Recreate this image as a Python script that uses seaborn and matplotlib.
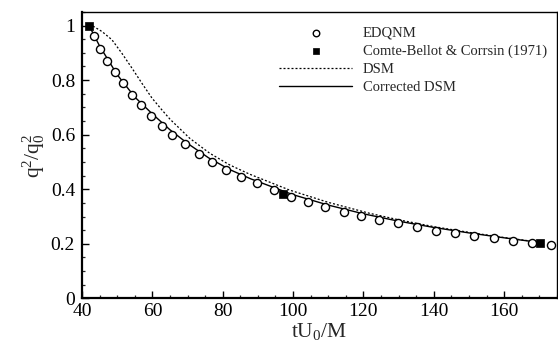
import matplotlib
matplotlib.use("Agg")
import matplotlib.pyplot as plt
import seaborn as sns
import numpy as np
import pandas as pd
from matplotlib.ticker import MultipleLocator, FormatStrFormatter

# EDQNM (open circles)
edqnm_x = [43.4, 45.1, 47.2, 49.5, 51.6, 54.2, 56.8, 59.7, 62.6, 65.7, 69.2, 73.2, 77.0, 81.0,
           85.3, 89.8, 94.5, 99.3, 104.2, 109.1, 114.4, 119.4, 124.5, 129.7, 135.1, 140.6,
           146.0, 151.5, 157.0, 162.5, 167.9, 173.2]
edqnm_y = [0.960, 0.914, 0.871, 0.828, 0.788, 0.745, 0.708, 0.668, 0.633, 0.599, 0.565, 0.531,
           0.500, 0.471, 0.446, 0.422, 0.397, 0.373, 0.354, 0.336, 0.318, 0.302, 0.287, 0.275,
           0.262, 0.248, 0.239, 0.229, 0.220, 0.211, 0.204, 0.194]

# Comte-Bellot & Corrsin (1971) (filled squares)
cbc_x = [42.0, 97.1, 170.2]
cbc_y = [1.0, 0.383, 0.204]

# DSM (dashed)
dsm_x = [42, 43, 45.7, 48.5, 51.3, 54.2, 57, 59.9, 62.7, 65, 70.6, 76.3, 82, 87.7, 99,
         110, 121.7, 130, 140, 150, 160, 170]
dsm_y = [1.0, 0.999, 0.978, 0.948, 0.899, 0.844, 0.789, 0.734, 0.691, 0.657, 0.587, 0.532,
         0.489, 0.455, 0.397, 0.352, 0.312, 0.288, 0.263, 0.242, 0.223, 0.206]

# Corrected DSM (solid)
cdsm_x = [42, 45, 50, 55, 60, 65, 70, 76, 82, 88, 100, 110, 120, 130, 140, 150, 160, 170]
cdsm_y = [1.0, 0.925, 0.82, 0.738, 0.676, 0.618, 0.568, 0.515, 0.472, 0.438, 0.38, 0.342,
          0.31, 0.283, 0.26, 0.24, 0.222, 0.205]

sns.set_theme(style="ticks")
plt.rcParams['font.family'] = ['Liberation Serif', 'DejaVu Serif']
plt.rcParams['mathtext.fontset'] = 'custom'
plt.rcParams['mathtext.rm'] = 'Liberation Serif'
plt.rcParams['mathtext.it'] = 'Liberation Serif'

fig = plt.figure(figsize=(5.58, 3.41), dpi=100)
ax = fig.add_axes([0.147, 0.125, 0.851, 0.840])

sns.scatterplot(x=edqnm_x, y=edqnm_y, ax=ax, marker='o', s=34, facecolor='white',
                edgecolor='black', linewidth=1.0, label='EDQNM', zorder=3)
sns.scatterplot(x=cbc_x, y=cbc_y, ax=ax, marker='s', s=34, color='black',
                edgecolor='black', linewidth=0.5, label='Comte-Bellot & Corrsin (1971)', zorder=4)
sns.lineplot(x=dsm_x, y=dsm_y, ax=ax, color='black', linestyle=(0, (1.6, 1.6)), linewidth=0.9,
             label='DSM', sort=True, estimator=None)
sns.lineplot(x=cdsm_x, y=cdsm_y, ax=ax, color='black', linestyle='-', linewidth=1.0,
             label='Corrected DSM', sort=True, estimator=None)

ax.set_xlim(40, 175)
ax.set_ylim(0, 1.05)
ax.xaxis.set_major_locator(MultipleLocator(20))
ax.xaxis.set_minor_locator(MultipleLocator(5))
ax.yaxis.set_major_locator(MultipleLocator(0.2))
ax.yaxis.set_minor_locator(MultipleLocator(0.05))
ax.yaxis.set_major_formatter(FormatStrFormatter('%g'))
ax.xaxis.set_major_formatter(FormatStrFormatter('%g'))

ax.tick_params(which='major', direction='in', length=5, width=1.0, labelsize=14,
               colors='black', top=False, right=False)
ax.tick_params(axis='x', which='major', pad=3)
ax.tick_params(axis='y', which='major', pad=5)
ax.tick_params(which='minor', direction='in', length=2.5, width=0.9, top=False, right=False)
for s in ax.spines.values():
    s.set_visible(True)
    s.set_color('black')
    s.set_linewidth(1.0)
ax.spines['left'].set_linewidth(1.6)
ax.spines['bottom'].set_linewidth(1.6)

ax.set_xlabel(r'$\mathregular{tU_0/M}$', fontsize=15.5, labelpad=1)
ax.set_ylabel(r'$\mathregular{q^2/q_0^2}$', fontsize=15.5, labelpad=3)

leg = ax.legend(loc='upper left', bbox_to_anchor=(0.415, 0.95), frameon=False,
                fontsize=10.5, handlelength=5.0, handletextpad=0.75, labelspacing=0.33,
                borderpad=0, borderaxespad=0)
for h in leg.legend_handles:
    try:
        h.set_sizes([22])
    except Exception:
        pass

fig.savefig('out.png', dpi=100)
